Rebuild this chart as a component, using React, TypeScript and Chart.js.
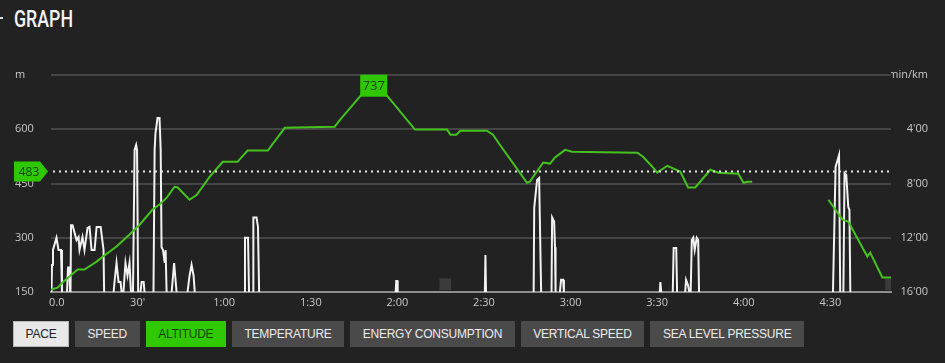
import React, { useEffect, useRef } from "react";
import { Chart, registerables } from "chart.js";

Chart.register(...registerables);

// ---------- data ----------
// Altitude (m) over elapsed time (minutes); null = gap in recording
const altTime = [0, 2.3, 4.0, 6.4, 9.2, 11.6, 15.8, 17.5, 22.7, 27.2, 30.7, 35.2, 37.6, 40.1, 42.8, 43.9, 48.0, 50.5, 55.0, 59.5, 64.6, 68.1, 75.1, 81.0, 98.3, 100.1, 107.0, 111.8, 116.7, 126.1, 137.2, 138.4, 140.4, 141.8, 151.0, 153.1, 155.5, 164.9, 165.9, 170.5, 172.9, 174.6, 178.1, 180.5, 203.1, 205.1, 208.6, 210.0, 213.5, 218.0, 220.7, 223.2, 228.4, 231.2, 238.1, 239.9, 241.2, 242.9, 256, 269.3, 274.2, 276.2, 282.8, 283.8, 288.0, 291.0];
const altValue = [157, 162, 176, 193, 212, 212, 234, 245, 276, 309, 336, 378, 392, 411, 441, 439, 405, 419, 469, 510, 510, 541, 541, 604, 607, 626, 690, 737, 690, 599, 599, 585, 585, 596, 596, 585, 557, 452, 455, 508, 505, 522, 543, 538, 535, 524, 494, 480, 499, 483, 439, 439, 488, 480, 477, 452, 455, 455, null, 405, 350, 345, 248, 259, 190, 190];

// Pace (min/km) over elapsed time (minutes); null = break between bursts
const paceTime = [
  0.17, 0.35, 0.69, 1.9, 2.6, 3.47, 3.8, 4.6,
  5.55, 5.9, 6.4, 6.6, 6.7,
  6.76, 6.94, 7.46, 8.85, 9.54, 9.88, 10.9, 11.6, 12.66, 13.35, 14.05, 15.1, 15.8, 17.2, 18.2, 18.4, 20,
  21.7, 22.0, 22.7, 23.4, 24.1, 24.45, 24.8,
  25.1, 25.8, 26.5, 27.2, 27.7, 28.0,
  28.4, 28.96, 29.5, 29.8, 30.2, 30.6,
  31.0, 31.4, 32.1, 32.4, 33,
  35.5, 35.9, 36.2, 36.9, 37.6, 38.0, 38.3, 38.8, 39.4, 39.7, 40.05, 41,
  41.8, 42.65, 43.5, 45,
  47.3, 48.0, 48.7, 49.4, 49.8, 55,
  67.1, 67.2, 68.25, 68.6, 69.3,
  70.0, 70.1, 71.2, 71.7, 72.1, 90,
  119.4, 119.6, 120.0, 120.1, 135,
  150.3, 150.5, 150.7, 160,
  167.2, 167.4, 168.4, 169.1, 169.8, 171,
  173.4, 173.6, 174.3, 174.6, 174.8, 175.5,
  176.3, 176.7, 177.4, 177.7, 190,
  210.9, 211.1, 211.4, 213,
  215.4, 215.7, 216.6, 216.9, 218,
  219.7, 220.0, 220.7, 221.1, 221.3,
  221.6, 222.0, 222.5, 223.0, 223.7, 224.2, 224.5, 250,
  270.9, 271.8, 272.5, 273.0, 273.4, 274,
  274.5, 274.9, 275.5, 276.2, 276.6, 276.9,
];
const paceValue = [
  16, 14.0, 12.9, 12.0, 12.9, 12.9, 16, null,
  16, 14.2, 14.2, 16, null,
  16, 11.07, 11.07, 12.17, 11.95, 12.9, 11.95, 12.9, 11.28, 11.2, 12.9, 12.9, 11.2, 11.2, 12.9, 16, null,
  16, 15.26, 13.86, 15.26, 15.26, 16, null,
  16, 13.86, 14.8, 13.86, 16, null,
  16, 5.53, 5.16, 5.53, 16, null,
  16, 15.26, 15.26, 16, null,
  16, 5.53, 4.28, 3.17, 3.17, 5.53, 12.7, 12.9, 13.86, 12.9, 16, null,
  16, 13.86, 16, null,
  16, 14.8, 14.0, 14.8, 16, null,
  16, 12.0, 12.0, 16, null,
  16, 10.5, 10.5, 11.2, 16, null,
  16, 15.19, 15.19, 16, null,
  16, 13.27, 16, null,
  16, 9.8, 7.74, 7.6, 16, null,
  16, 10.5, 10.8, 12.7, 16, null,
  16, 15.1, 15.1, 16, null,
  16, 15.26, 16, null,
  16, 12.75, 12.75, 16, null,
  16, 15.1, 15.5, 16, null,
  16, 12.17, 12.0, 12.9, 12.0, 12.17, 16, null,
  16, 6.78, 6.27, 5.9, 16, null,
  16, 7.23, 7.37, 9.73, 9.95, 16,
];

// small pause markers (time in minutes, altitude span in m)
const pauseTime = [136.6, 291];
const pauseLow = [156, 156];
const pauseHigh = [187, 187];

const currentAltitude = 483;

const yTicks = [150, 300, 450, 600, 750];
const paceTicks = [0, 4, 8, 12, 16];
const buttonLabels = ["PACE", "SPEED", "ALTITUDE", "TEMPERATURE", "ENERGY CONSUMPTION", "VERTICAL SPEED", "SEA LEVEL PRESSURE"];
const activeButton = "ALTITUDE";
const selectedButton = "PACE";

// ---------- helpers ----------
const fmtTime = (v: number) => {
  if (v % 30 !== 0) return "";
  if (v === 0) return "    0.0";
  if (v < 60) return `${v}'`;
  const h = Math.floor(v / 60);
  const m = v % 60;
  return `${h}:${String(m).padStart(2, "0")}`;
};

const tickFont = { family: '"Open Sans", "DejaVu Sans", sans-serif', size: 11 };
const GREEN = "#2fc800";

const markerPlugin = {
  id: "altMarkers",
  afterDraw(chart: any) {
    const { ctx, chartArea, scales } = chart;
    const y = scales.y.getPixelForValue(currentAltitude);
    ctx.save();
    // dotted current-altitude line
    ctx.strokeStyle = "#e6e6e6";
    ctx.lineWidth = 2;
    ctx.setLineDash([2, 4]);
    ctx.beginPath();
    ctx.moveTo(chartArea.left + 2, y);
    ctx.lineTo(chartArea.right, y);
    ctx.stroke();
    ctx.setLineDash([]);
    // left flag
    ctx.fillStyle = GREEN;
    ctx.beginPath();
    ctx.moveTo(14, y - 10);
    ctx.lineTo(40, y - 10);
    ctx.lineTo(48, y);
    ctx.lineTo(40, y + 10);
    ctx.lineTo(14, y + 10);
    ctx.closePath();
    ctx.fill();
    ctx.fillStyle = "#0f3f00";
    ctx.font = '12px "Open Sans", "DejaVu Sans", sans-serif';
    ctx.textAlign = "center";
    ctx.textBaseline = "middle";
    ctx.fillText(String(currentAltitude), 29, y + 1);

    // peak label
    let mi = 0;
    altValue.forEach((v, i) => {
      if (v !== null && v > (altValue[mi] as number)) mi = i;
    });
    const px = scales.x.getPixelForValue(altTime[mi]);
    const py = scales.y.getPixelForValue(altValue[mi]);
    ctx.fillStyle = GREEN;
    ctx.fillRect(px - 13.5, py - 5, 27, 22);
    ctx.fillStyle = "#123f05";
    ctx.font = '13px "Open Sans", "DejaVu Sans", sans-serif';
    ctx.fillText(String(altValue[mi]), px, py + 6.5);
    ctx.restore();
  },
};

export default function App() {
  const ref = useRef<HTMLCanvasElement>(null);

  useEffect(() => {
    const altData = altTime.map((t, i) => ({ x: t, y: altValue[i] }));
    const paceData = paceTime.map((t, i) => ({ x: t, y: paceValue[i] }));
    const pauseData = pauseTime.map((t, i) => ({ x: t, y: [pauseLow[i], pauseHigh[i]] }));

    const chart = new Chart(ref.current as HTMLCanvasElement, {
      type: "line",
      data: {
        datasets: [
          {
            label: "Altitude",
            data: altData as any,
            yAxisID: "y",
            borderColor: "#46c21e",
            borderWidth: 2,
            pointRadius: 0,
            tension: 0,
            spanGaps: false,
          },
          {
            label: "Pace",
            data: paceData as any,
            yAxisID: "y2",
            borderColor: "#f2f2f2",
            borderWidth: 2,
            pointRadius: 0,
            tension: 0,
            spanGaps: false,
          },
          {
            type: "bar",
            label: "Pause",
            data: pauseData as any,
            yAxisID: "y",
            backgroundColor: "#3b3b3b",
            barThickness: 11,
          } as any,
        ],
      },
      options: {
        responsive: false,
        animation: false,
        events: [],
        layout: { padding: { left: 15, right: 17, top: 75, bottom: 0 } },
        plugins: { legend: { display: false }, tooltip: { enabled: false } },
        scales: {
          x: {
            type: "linear",
            min: 0,
            max: 291,
            offset: false,
            border: { display: true, color: "#8e8e8e", width: 2 },
            grid: { display: false, drawTicks: false },
            ticks: {
              stepSize: 30,
              includeBounds: false,
              autoSkip: false,
              maxRotation: 0,
              padding: 4,
              color: "#c8c8c8",
              font: tickFont,
              callback: (v: any) => fmtTime(Number(v)),
            },
            afterFit: (s: any) => {
              s.height = 28;
            },
          },
          y: {
            position: "left",
            min: yTicks[0],
            max: yTicks[yTicks.length - 1],
            border: { display: false },
            grid: { color: "#454545", lineWidth: 2, drawTicks: false },
            afterBuildTicks: (s: any) => {
              s.ticks = yTicks.map((v) => ({ value: v }));
            },
            ticks: {
              crossAlign: "far",
              padding: 0,
              color: "#c8c8c8",
              font: tickFont,
              callback: (v: any) => (Number(v) === 750 ? "m" : String(v)),
            },
            afterFit: (s: any) => {
              s.width = 36;
            },
          },
          y2: {
            position: "right",
            min: paceTicks[0],
            max: paceTicks[paceTicks.length - 1],
            reverse: true,
            border: { display: false },
            grid: { display: false, drawTicks: false },
            afterBuildTicks: (s: any) => {
              s.ticks = paceTicks.map((v) => ({ value: v }));
            },
            ticks: {
              crossAlign: "far",
              padding: 0,
              color: "#c8c8c8",
              font: tickFont,
              callback: (v: any) => (Number(v) === 0 ? "min/km" : `${v}'00`),
            },
            afterFit: (s: any) => {
              s.width = 37;
            },
          },
        },
      } as any,
      plugins: [markerPlugin],
    });
    return () => chart.destroy();
  }, []);

  return (
    <div
      style={{
        position: "fixed",
        left: 0,
        top: 0,
        width: 945,
        height: 363,
        background: "#222222",
        overflow: "hidden",
      }}
    >
      <div style={{ position: "absolute", left: 0, top: 17, width: 3, height: 2, background: "#dddddd" }} />
      <div
        style={{
          position: "absolute",
          left: 14,
          top: 5,
          fontFamily: "Roboto, sans-serif",
          fontWeight: 500,
          fontSize: 24,
          lineHeight: "28px",
          color: "#f4f4f4",
          transform: "scaleX(0.74)",
          transformOrigin: "left top",
          whiteSpace: "nowrap",
        }}
      >
        GRAPH
      </div>
      <canvas
        ref={ref}
        width={945}
        height={320}
        style={{ position: "absolute", left: 0, top: 0, width: 945, height: 320 }}
      />
      <div
        style={{
          position: "absolute",
          left: 13,
          top: 321,
          display: "flex",
          gap: 6,
        }}
      >
        {buttonLabels.map((b) => {
          const isActive = b === activeButton;
          const isSel = b === selectedButton;
          return (
            <div
              key={b}
              style={{
                height: 26,
                boxSizing: "border-box",
                padding: "0 11.6px",
                display: "flex",
                alignItems: "center",
                fontFamily: '"Liberation Sans", Arial, sans-serif',
                fontSize: 12,
                letterSpacing: "-0.25px",
                whiteSpace: "nowrap",
                background: isActive ? "#30c800" : isSel ? "#e8e8e8" : "#4a4a4a",
                color: isActive ? "#134a00" : isSel ? "#222222" : "#ececec",
                border: isSel ? "1px solid #b8b8b8" : "1px solid transparent",
              }}
            >
              {b}
            </div>
          );
        })}
      </div>
    </div>
  );
}
